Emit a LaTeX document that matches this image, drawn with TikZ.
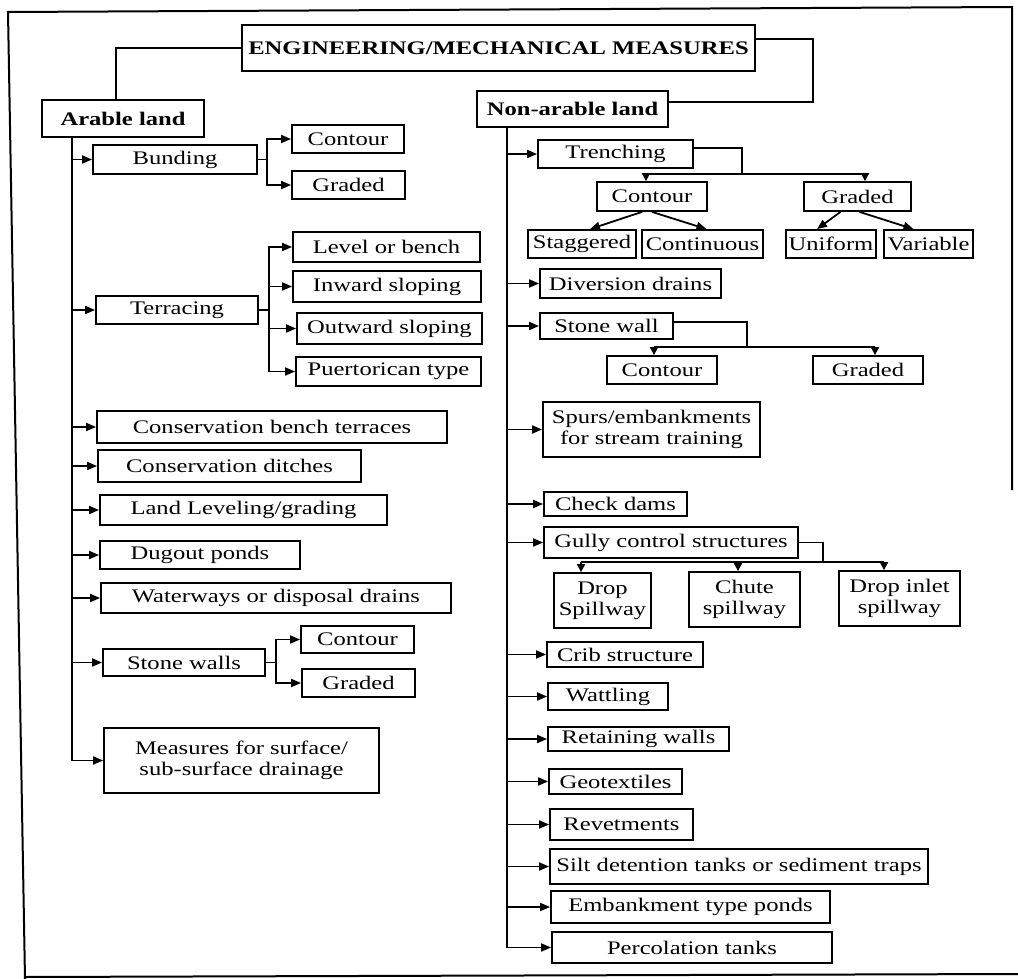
\documentclass[tikz,border=0pt]{standalone}
\usepackage{fontspec}
\setmainfont{Liberation Serif}[FakeStretch=1.28]
\usetikzlibrary{arrows.meta}
\tikzset{
  txt/.style={font=\fontsize{9.6}{10.5}\selectfont},
  bx/.style={draw, line width=0.9pt, inner sep=1pt, align=center, txt},
  bf/.style={font=\fontsize{9.6}{10.5}\selectfont\bfseries},
  ln/.style={line width=0.9pt},
  arr/.style={ln, -{Triangle[length=5pt,width=4pt]}},
  darr/.style={ln, -{Triangle[length=4pt,width=4pt]}},
  frame/.style={line width=1pt}
}
\newcommand\BX[7][]{%
  \node[bx,#1,minimum width={(#5-#3)*0.5pt},minimum height={(#6-#4)*0.5pt}]
    (#2) at ({(#3+#5)/2},{(#4+#6)/2}) {#7};}
\begin{document}
\begin{tikzpicture}[x=0.5pt,y=-0.5pt]
\useasboundingbox (0,0) rectangle (1018,979);
% frame
\draw[frame] (1012,490) -- (1012,7) -- (8,12) -- (25,979);
\draw[frame] (25,977) -- (1018,974);
% top
\BX[bf]{Title}{242}{25}{755}{71}{ENGINEERING/MECHANICAL MEASURES}
\BX[bf]{Arable}{42}{100}{204}{137}{Arable land}
\BX[bf]{NonArable}{477}{91}{668}{127}{Non-arable land}
% left column
\BX{Bund}{93}{145}{257}{174}{Bunding}
\BX{BCont}{292}{125}{404}{153}{Contour}
\BX{BGrad}{292}{171}{405}{199}{Graded}
\BX{Terr}{96}{296}{258}{324}{Terracing}
\BX{TLev}{293}{232}{480}{262}{Level or bench}
\BX{TInw}{293}{271}{481}{302}{Inward sloping}
\BX{TOut}{297}{313}{482}{344}{Outward sloping}
\BX{TPue}{296}{357}{481}{386}{Puertorican type}
\BX{CBT}{97}{411}{447}{443}{Conservation bench terraces}
\BX{CDit}{98}{450}{361}{482}{Conservation ditches}
\BX{LLev}{100}{495}{387}{525}{Land Leveling/grading}
\BX{Dug}{100}{541}{300}{569}{Dugout ponds}
\BX{Water}{101}{583}{451}{613}{Waterways or disposal drains}
\BX{SW}{103}{649}{265}{676}{Stone walls}
\BX{SWC}{301}{626}{414}{653}{Contour}
\BX{SWG}{302}{669}{415}{697}{Graded}
\BX{Meas}{104}{728}{379}{793}{Measures for surface/\\sub-surface drainage}
% right column
\BX{Trench}{538}{140}{693}{168}{Trenching}
\BX{TrC}{597}{182}{707}{211}{Contour}
\BX{TrG}{804}{182}{911}{211}{Graded}
\BX{Stag}{528}{230}{636}{258}{Staggered}
\BX{Cont}{642}{230}{763}{258}{Continuous}
\BX{Unif}{786}{230}{876}{258}{Uniform}
\BX{Var}{884}{230}{973}{258}{Variable}
\BX{Div}{540}{269}{721}{298}{Diversion drains}
\BX{StW}{540}{313}{673}{339}{Stone wall}
\BX{StC}{607}{356}{717}{384}{Contour}
\BX{StG}{813}{356}{923}{384}{Graded}
\BX{Spur}{543}{402}{760}{457}{Spurs/embankments\\for stream training}
\BX{Check}{544}{492}{687}{516}{Check dams}
\BX{Gully}{544}{527}{798}{558}{Gully control structures}
\BX{DropS}{554}{573}{651}{628}{Drop\\Spillway}
\BX{Chute}{689}{572}{800}{627}{Chute\\spillway}
\BX{DropI}{839}{571}{960}{626}{Drop inlet\\spillway}
\BX{Crib}{547}{642}{703}{667}{Crib structure}
\BX{Watt}{548}{683}{668}{710}{Wattling}
\BX{Ret}{548}{727}{729}{751}{Retaining walls}
\BX{Geo}{549}{769}{682}{794}{Geotextiles}
\BX{Rev}{550}{809}{693}{840}{Revetments}
\BX{Silt}{550}{849}{928}{884}{Silt detention tanks or sediment traps}
\BX{Emb}{551}{891}{830}{923}{Embankment type ponds}
\BX{Perc}{552}{932}{832}{963}{Percolation tanks}
% top connectors
\coordinate (AL) at (116,0);
\draw[ln] (Title.west) -| (Arable.north -| AL);
\coordinate (TRc) at (813,102);
\draw[ln] ([yshift=4.5pt]Title.east) -| (TRc) -- (TRc -| NonArable.east);
% left trunk
\coordinate (LT) at (72,0);
\draw[arr] (Arable.south -| LT) |- (Meas.west);
\foreach \n in {Bund,Terr,CBT,CDit,LLev,Dug,Water,SW}
  \draw[arr] (\n.west -| LT) -- (\n.west);
% left forks
\coordinate (BF) at (267,0);
\draw[ln] (Bund.east) -- (Bund.east -| BF);
\foreach \n in {BCont,BGrad} \draw[arr] (Bund.east -| BF) |- (\n.west);
\coordinate (TF) at (269,0);
\draw[ln] (Terr.east) -- (Terr.east -| TF);
\foreach \n in {TLev,TInw,TOut,TPue} \draw[arr] (Terr.east -| TF) |- (\n.west);
\coordinate (SF) at (276,0);
\draw[ln] (SW.east) -- (SW.east -| SF);
\foreach \n in {SWC,SWG} \draw[arr] (SW.east -| SF) |- (\n.west);
% right trunk
\coordinate (RT) at (507,0);
\draw[arr] (NonArable.south -| RT) |- (Perc.west);
\foreach \n in {Trench,Div,StW,Spur,Check,Gully,Crib,Watt,Ret,Geo,Rev,Silt,Emb}
  \draw[arr] (\n.west -| RT) -- (\n.west);
% trenching
\coordinate (TJ) at (742,174);
\coordinate (T1) at (646,174);
\coordinate (T2) at (865,174);
\draw[ln] ([yshift=3pt]Trench.east) -| (TJ);
\draw[ln] (T1) -- (T2);
\draw[darr] (T1) -- (T1 |- TrC.north);
\draw[darr] (T2) -- (T2 |- TrG.north);
\draw[arr] ([xshift=-5pt]TrC.south) -- ([xshift=4pt]Stag.north);
\draw[arr] (TrC.south) -- ([xshift=2pt]Cont.north);
\draw[arr] ([xshift=-8.5pt]TrG.south) -- ([xshift=-7pt]Unif.north);
\draw[arr] ([xshift=1pt]TrG.south) -- ([xshift=-7.5pt]Var.north);
% stone wall
\coordinate (SJ) at (747,347);
\coordinate (S1) at (654,347);
\coordinate (S2) at (875,347);
\draw[ln] ([yshift=2pt]StW.east) -| (SJ);
\draw[ln] (S1) -- (S2);
\draw[darr] (S1) -- (S1 |- StC.north);
\draw[darr] (S2) -- (S2 |- StG.north);
% gully
\coordinate (GJ) at (823,562);
\coordinate (G1) at (581,562);
\coordinate (G2) at (738,562);
\coordinate (G3) at (884,562);
\draw[ln] (Gully.east) -| (GJ);
\draw[ln] (G1) -- (G3);
\draw[darr] (G1) -- (G1 |- DropS.north);
\draw[darr] (G2) -- (G2 |- Chute.north);
\draw[darr] (G3) -- (G3 |- DropI.north);
\end{tikzpicture}
\end{document}
